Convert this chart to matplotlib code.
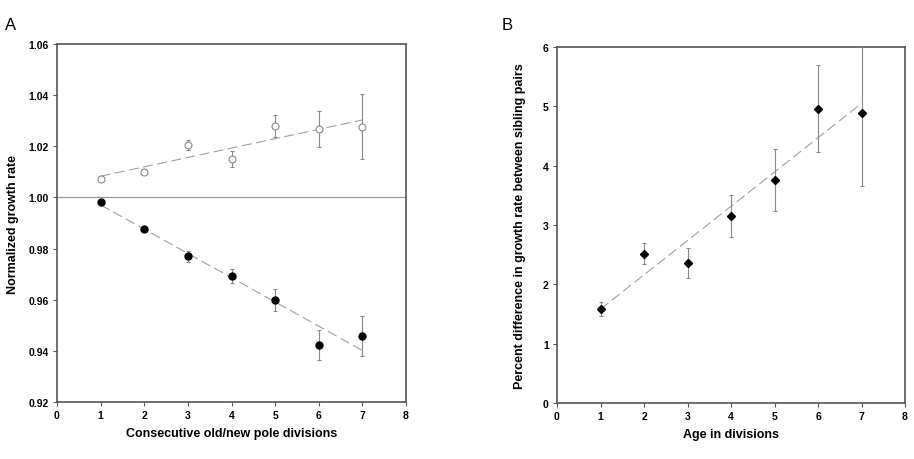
import numpy as np
import matplotlib
matplotlib.use("Agg")
import matplotlib.pyplot as plt

plt.rcParams['font.family'] = ['Liberation Sans', 'DejaVu Sans']

# panel A: old/new pole growth rates
divisions = [1, 2, 3, 4, 5, 6, 7]
new_pole = [1.0073, 1.0098, 1.0205, 1.0150, 1.0280, 1.0268, 1.0277]
new_pole_err = [0.0005, 0.0008, 0.0018, 0.0030, 0.0044, 0.0069, 0.0128]
old_pole = [0.9983, 0.9878, 0.9769, 0.9693, 0.9600, 0.9422, 0.9458]
old_pole_err = [0.0004, 0.0005, 0.0020, 0.0026, 0.0043, 0.0058, 0.0080]
a_xticks = [0, 1, 2, 3, 4, 5, 6, 7, 8]
a_yticks = [0.92, 0.94, 0.96, 0.98, 1.00, 1.02, 1.04, 1.06]

# panel B: sibling pair differences
age = [1, 2, 3, 4, 5, 6, 7]
pct_diff = [1.579, 2.517, 2.365, 3.152, 3.753, 4.960, 4.880]
pct_diff_err = [0.12, 0.18, 0.25, 0.35, 0.52, 0.73, 1.23]
b_xticks = [0, 1, 2, 3, 4, 5, 6, 7, 8]
b_yticks = [0, 1, 2, 3, 4, 5, 6]

axis_col = '#555555'
err_col = '#888888'
fit_col = '#a0a0a0'

fig = plt.figure(figsize=(9.14, 4.6), dpi=100)
axA = fig.add_axes([57/914, 1-403/460, 349/914, 358/460])
axB = fig.add_axes([557/914, 1-404/460, 348/914, 356/460])


def style(ax, xt, yt, fmt):
    for s in ax.spines.values():
        s.set_color(axis_col)
        s.set_linewidth(1.2)
    ax.tick_params(direction='out', length=3, width=0.8, color=axis_col, pad=3)
    ax.set_xticks(xt, [str(v) for v in xt], fontsize=7.5, fontweight='bold')
    ax.set_yticks(yt, [fmt % v for v in yt], fontsize=7.5, fontweight='bold')


def fit_line(ax, x, y):
    k, b = np.polyfit(x, y, 1)
    xx = np.array([x[0], x[-1]])
    ax.plot(xx, k*xx + b, color=fit_col, lw=0.8, dashes=(9, 4), zorder=1)


# ---- A ----
axA.axhline(1.0, color='#999999', lw=0.9, zorder=1)
fit_line(axA, divisions, new_pole)
fit_line(axA, divisions, old_pole)
axA.errorbar(divisions, new_pole, yerr=new_pole_err, fmt='o', ms=5,
             mfc='white', mec='#888888', mew=0.8, ecolor=err_col,
             elinewidth=0.8, capsize=1.5, capthick=0.8, zorder=3)
axA.errorbar(divisions, old_pole, yerr=old_pole_err, fmt='o', ms=5,
             mfc='black', mec='black', ecolor=err_col,
             elinewidth=0.8, capsize=1.5, capthick=0.8, zorder=3)
axA.set_xlim(0, 8)
axA.set_ylim(0.92, 1.06)
style(axA, a_xticks, a_yticks, '%.2f')
axA.set_xlabel('Consecutive old/new pole divisions', fontsize=9,
               fontweight='bold', labelpad=5)
axA.set_ylabel('Normalized growth rate', fontsize=9, fontweight='bold',
               labelpad=7)
fig.text(5/914, 1-25/460, 'A', fontsize=12, va='center')

# ---- B ----
fit_line(axB, age, pct_diff)
axB.errorbar(age, pct_diff, yerr=pct_diff_err, fmt='D', ms=4.5,
             mfc='black', mec='black', ecolor=err_col,
             elinewidth=0.8, capsize=1.5, capthick=0.8, zorder=3)
axB.set_xlim(0, 8)
axB.set_ylim(0, 6)
style(axB, b_xticks, b_yticks, '%d')
axB.set_xlabel('Age in divisions', fontsize=9, fontweight='bold',
               labelpad=5)
axB.set_ylabel('Percent difference in growth rate between sibling pairs',
               fontsize=9, fontweight='bold', labelpad=12)
fig.text(502/914, 1-25/460, 'B', fontsize=12, va='center')

fig.savefig('out.png', dpi=100, facecolor='white')
